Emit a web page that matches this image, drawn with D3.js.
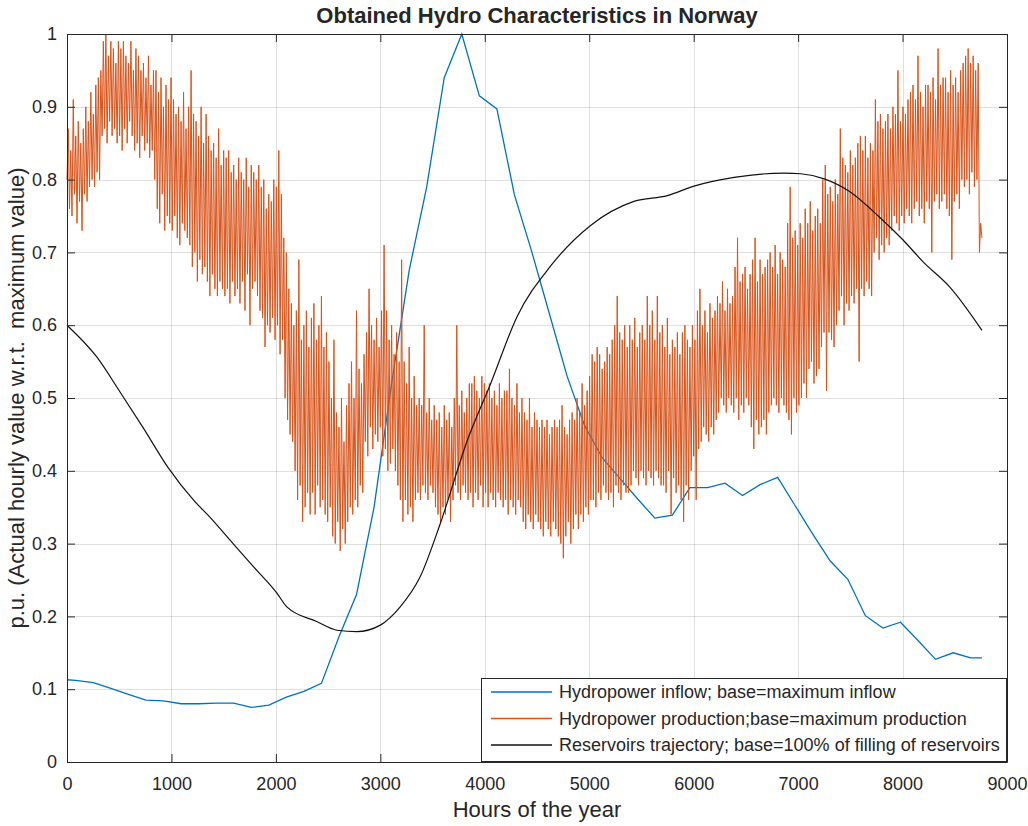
<!DOCTYPE html>
<html>
<head>
<meta charset="utf-8">
<script src="https://cdn.jsdelivr.net/npm/d3@7"></script>
<style>
  body { margin: 0; background: #fff; }
  text { font-family: "Liberation Sans", Arial, Helvetica, sans-serif; fill: #262626; }
</style>
</head>
<body>
<svg id="chart" width="1028" height="826"></svg>
<script>

let xTicks = [0, 1000, 2000, 3000, 4000, 5000, 6000, 7000, 8000, 9000];
let xTickLabels = ['0', '1000', '2000', '3000', '4000', '5000', '6000', '7000', '8000', '9000'];
let yTicks = [0, 0.1, 0.2, 0.3, 0.4, 0.5, 0.6, 0.7, 0.8, 0.9, 1];
let yTickLabels = ['0', '0.1', '0.2', '0.3', '0.4', '0.5', '0.6', '0.7', '0.8', '0.9', '1'];

let seriesNames = [
  'Hydropower inflow; base=maximum inflow',
  'Hydropower production;base=maximum production',
  'Reservoirs trajectory; base=100% of filling of reservoirs'
];
let seriesColors = ['#0072BD', '#D95319', '#111111'];

// weekly inflow points (hours, p.u.)
let inflowHours = [0, 84, 252, 420, 588, 756, 924, 1092, 1260, 1428, 1596, 1764, 1932, 2100,
  2268, 2436, 2604, 2772, 2940, 3108, 3276, 3444, 3612, 3780, 3948, 4116, 4284, 4452, 4620,
  4788, 4956, 5124, 5292, 5460, 5628, 5796, 5964, 6132, 6300, 6468, 6636, 6804, 6972, 7140,
  7308, 7476, 7644, 7812, 7980, 8148, 8316, 8484, 8652, 8760];
let inflowValues = [0.113, 0.112, 0.109, 0.101, 0.093, 0.085, 0.084, 0.080, 0.080, 0.081, 0.081, 0.075,
  0.078, 0.089, 0.097, 0.108, 0.172, 0.230, 0.350, 0.520, 0.675, 0.790, 0.940, 1.000, 0.915, 0.897,
  0.779, 0.700, 0.615, 0.530, 0.462, 0.418, 0.390, 0.362, 0.335, 0.339, 0.377, 0.377, 0.383, 0.366,
  0.381, 0.391, 0.352, 0.313, 0.276, 0.251, 0.201, 0.184, 0.192, 0.167, 0.141, 0.150, 0.143, 0.143];

// reservoir filling
let reservoirHours = [0, 287, 500, 730, 970, 1210, 1370, 1590, 1800, 2010, 2105, 2390, 2585, 2775,
  3000, 3190, 3380, 3575, 3831, 4054, 4310, 4629, 5013, 5428, 5748, 6003, 6387, 6866, 7026,
  7250, 7489, 7775, 8005, 8197, 8455, 8760];
let reservoirValues = [0.600, 0.556, 0.510, 0.459, 0.404, 0.360, 0.336, 0.300, 0.266, 0.232, 0.213,
  0.193, 0.181, 0.179, 0.188, 0.213, 0.254, 0.328, 0.441, 0.519, 0.612, 0.681, 0.737, 0.770, 0.778,
  0.791, 0.803, 0.809, 0.808, 0.801, 0.784, 0.749, 0.717, 0.687, 0.652, 0.593];

// production, one reading every 12 h (percent of max), a row per week
let productionStep = 12;
let productionPct = [
  80, 87, 76, 84, 75, 91, 78, 86, 74, 88, 77, 85, 73, 87,
  78, 90, 77, 88, 79, 92, 80, 89, 79, 93, 81, 94, 80, 95,
  86, 99, 87, 100, 85, 97, 88, 99, 86, 98, 87, 96, 85, 99,
  86, 98, 84, 99, 87, 97, 85, 96, 88, 99, 86, 95, 84, 98,
  85, 97, 83, 95, 86, 96, 84, 94, 85, 97, 83, 93, 84, 95,
  80, 95, 76, 92, 74, 94, 78, 90, 73, 93, 75, 91, 74, 94,
  73, 91, 75, 89, 72, 90, 71, 88, 74, 92, 73, 87, 72, 90,
  71, 95, 68, 89, 70, 88, 66, 86, 69, 90, 67, 85, 68, 89,
  66, 86, 64, 84, 67, 85, 65, 83, 64, 87, 66, 82, 65, 84,
  64, 83, 65, 84, 63, 81, 66, 82, 64, 80, 65, 83, 63, 81,
  66, 80, 62, 83, 67, 79, 60, 82, 65, 81, 66, 80, 64, 82,
  62, 79, 61, 80, 57, 76, 60, 78, 59, 77, 61, 80, 58, 79,
  60, 84, 56, 78, 58, 72, 50, 70, 47, 65, 45, 63, 44, 60,
  40, 62, 36, 69, 38, 58, 33, 60, 35, 62, 37, 57, 34, 61,
  37, 63, 34, 58, 38, 60, 35, 64, 36, 57, 34, 59, 33, 55,
  35, 50, 31, 58, 30, 48, 33, 46, 29, 50, 32, 44, 30, 49,
  33, 52, 35, 55, 34, 50, 36, 62, 35, 54, 38, 52, 37, 56,
  44, 59, 42, 65, 46, 60, 43, 58, 45, 61, 44, 57, 46, 62,
  42, 71, 43, 62, 40, 58, 41, 60, 43, 56, 40, 59, 38, 55,
  36, 69, 33, 55, 36, 52, 34, 57, 35, 50, 33, 53, 36, 49,
  37, 50, 36, 49, 38, 60, 37, 48, 36, 50, 38, 47, 37, 49,
  35, 47, 34, 48, 33, 46, 35, 49, 34, 47, 36, 48, 33, 46,
  36, 50, 38, 60, 37, 49, 36, 51, 38, 48, 37, 50, 36, 52,
  37, 52, 35, 53, 37, 51, 36, 50, 38, 53, 35, 52, 37, 51,
  35, 52, 37, 50, 36, 51, 35, 49, 37, 52, 36, 50, 35, 51,
  36, 51, 34, 54, 36, 50, 35, 49, 34, 52, 36, 48, 35, 50,
  33, 48, 32, 47, 34, 50, 33, 46, 32, 48, 34, 47, 33, 46,
  32, 47, 31, 46, 33, 47, 32, 45, 31, 46, 33, 47, 32, 46,
  31, 47, 30, 49, 28, 46, 31, 45, 33, 47, 30, 48, 32, 47,
  34, 50, 32, 48, 34, 52, 33, 49, 35, 51, 34, 53, 36, 56,
  36, 55, 35, 57, 37, 56, 36, 54, 38, 55, 37, 57, 36, 56,
  37, 58, 35, 60, 38, 64, 37, 59, 36, 58, 38, 60, 37, 57,
  37, 60, 38, 58, 40, 61, 39, 57, 38, 59, 40, 60, 39, 58,
  38, 64, 40, 60, 39, 62, 38, 58, 40, 64, 39, 59, 38, 60,
  38, 57, 37, 61, 40, 56, 34, 58, 39, 57, 37, 59, 38, 56,
  36, 59, 33, 60, 38, 58, 36, 57, 40, 60, 42, 58, 36, 62,
  43, 65, 44, 60, 46, 62, 45, 59, 44, 63, 46, 61, 45, 62,
  47, 64, 48, 63, 50, 66, 49, 62, 48, 65, 50, 63, 49, 64,
  48, 68, 50, 72, 47, 66, 49, 67, 48, 68, 50, 65, 49, 67,
  46, 69, 43, 72, 47, 66, 45, 69, 46, 67, 47, 68, 45, 69,
  48, 70, 49, 68, 50, 71, 49, 67, 48, 70, 50, 69, 49, 68,
  48, 74, 47, 79, 45, 72, 50, 73, 48, 71, 49, 74, 50, 72,
  52, 76, 50, 74, 54, 77, 55, 73, 52, 75, 53, 76, 54, 74,
  57, 80, 59, 82, 51, 78, 59, 79, 58, 77, 57, 80, 60, 78,
  62, 87, 64, 83, 60, 82, 63, 81, 62, 84, 64, 82, 63, 83,
  65, 85, 55, 86, 65, 84, 64, 86, 66, 83, 65, 85, 64, 84,
  70, 91, 72, 88, 69, 89, 71, 87, 70, 88, 72, 89, 71, 87,
  73, 90, 75, 89, 74, 95, 73, 88, 75, 90, 74, 89, 76, 91,
  75, 92, 74, 93, 76, 91, 77, 97, 75, 92, 76, 90, 74, 93,
  77, 93, 76, 92, 70, 94, 77, 91, 78, 98, 76, 93, 77, 94,
  78, 94, 76, 92, 75, 95, 69, 93, 77, 94, 78, 92, 76, 95,
  80, 96, 79, 97, 80, 98, 78, 96, 81, 97, 79, 95, 80, 96,
  70, 74, 72
];

let W = 1028, H = 826;
let margin = {top: 34, right: 21, bottom: 64, left: 67};

let svg = d3.select('#chart');

svg.append('rect')
    .attr('width', W)
    .attr('height', H)
    .attr('fill', '#fff');

let x = d3.scaleLinear()
    .domain([0, 9000])
    .range([margin.left, W - margin.right]);

let y = d3.scaleLinear()
    .domain([0, 1])
    .range([H - margin.bottom, margin.top]);

//grid
let grid = svg.append('g').attr('class', 'grid');
grid.selectAll('line.gx')
  .data(xTicks.slice(1, -1))
  .enter().append('line')
    .attr('class', 'gx')
    .attr('x1', d => Math.round(x(d)) + 0.5)
    .attr('x2', d => Math.round(x(d)) + 0.5)
    .attr('y1', y(0))
    .attr('y2', y(1))
    .attr('stroke', '#262626')
    .attr('stroke-opacity', 0.15);
grid.selectAll('line.gy')
  .data(yTicks.slice(1, -1))
  .enter().append('line')
    .attr('class', 'gy')
    .attr('y1', d => Math.round(y(d)) + 0.5)
    .attr('y2', d => Math.round(y(d)) + 0.5)
    .attr('x1', x(0))
    .attr('x2', x(9000))
    .attr('stroke', '#262626')
    .attr('stroke-opacity', 0.15);

let line = d3.line()
    .x(d => x(d[0]))
    .y(d => y(d[1]));

let productionData = productionPct.map((v, i) => [i * productionStep, v / 100]);

svg.append('path')
    .datum(d3.zip(inflowHours, inflowValues))
    .attr('fill', 'none')
    .attr('stroke', seriesColors[0])
    .attr('stroke-width', 1.3)
    .attr('d', line);

svg.append('path')
    .datum(productionData)
    .attr('fill', 'none')
    .attr('stroke', seriesColors[1])
    .attr('stroke-width', 1)
    .attr('stroke-linejoin', 'round')
    .attr('d', line);

svg.append('path')
    .datum(d3.zip(reservoirHours, reservoirValues))
    .attr('fill', 'none')
    .attr('stroke', seriesColors[2])
    .attr('stroke-width', 1.2)
    .attr('d', line.curve(d3.curveMonotoneX));

//axes (box with inward ticks)
function styleAxis(g) {
  g.attr('color', '#262626');
  g.selectAll('text')
    .attr('font-size', 18)
    .attr('fill', '#262626')
    .attr('font-family', '"Liberation Sans", Arial, sans-serif');
}

svg.append('g')
    .attr('transform', 'translate(0,' + y(0) + ')')
    .call(d3.axisBottom(x).tickValues(xTicks)
      .tickFormat((d, i) => xTickLabels[i])
      .tickSizeInner(-8).tickSizeOuter(0).tickPadding(15))
    .call(styleAxis);

svg.append('g')
    .attr('transform', 'translate(' + x(0) + ',0)')
    .call(d3.axisLeft(y).tickValues(yTicks)
      .tickFormat((d, i) => yTickLabels[i])
      .tickSizeInner(-8).tickSizeOuter(0).tickPadding(10))
    .call(styleAxis);

svg.append('g')
    .attr('transform', 'translate(0,' + y(1) + ')')
    .call(d3.axisTop(x).tickValues(xTicks).tickFormat('')
      .tickSizeInner(-8).tickSizeOuter(0))
    .call(styleAxis);

svg.append('g')
    .attr('transform', 'translate(' + x(9000) + ',0)')
    .call(d3.axisRight(y).tickValues(yTicks).tickFormat('')
      .tickSizeInner(-8).tickSizeOuter(0))
    .call(styleAxis);

//title and labels
svg.append('text')
    .attr('x', (x(0) + x(9000)) / 2)
    .attr('y', 23)
    .attr('text-anchor', 'middle')
    .attr('font-weight', 'bold')
    .attr('font-size', 22)
    .attr('fill', '#000')
    .text('Obtained Hydro Characteristics in Norway');

svg.append('text')
    .attr('x', (x(0) + x(9000)) / 2)
    .attr('y', 817)
    .attr('text-anchor', 'middle')
    .attr('font-size', 22)
    .text('Hours of the year');

svg.append('text')
    .attr('transform', 'translate(24,' + (y(0) + y(1)) / 2 + ') rotate(-90)')
    .attr('text-anchor', 'middle')
    .attr('font-size', 22)
    .style('white-space', 'pre')
    .text('p.u. (Actual hourly value w.r.t.  maximum value)');

//legend
let lg = svg.append('g').attr('class', 'legend');
lg.append('rect')
    .attr('x', 481.5)
    .attr('y', 678.5)
    .attr('width', 525)
    .attr('height', 83)
    .attr('fill', '#fff')
    .attr('stroke', '#262626');

let rows = lg.selectAll('g.row')
  .data(seriesNames)
  .enter().append('g')
    .attr('class', 'row')
    .attr('transform', (d, i) => 'translate(0,' + (692 + i * 26.5) + ')');

rows.append('line')
    .attr('x1', 491)
    .attr('x2', 552)
    .attr('stroke', (d, i) => seriesColors[i])
    .attr('stroke-width', 1.3);

rows.append('text')
    .attr('x', 559)
    .attr('dy', '0.35em')
    .attr('font-size', 18)
    .attr('fill', '#000')
    .text(d => d);

</script>
</body>
</html>
